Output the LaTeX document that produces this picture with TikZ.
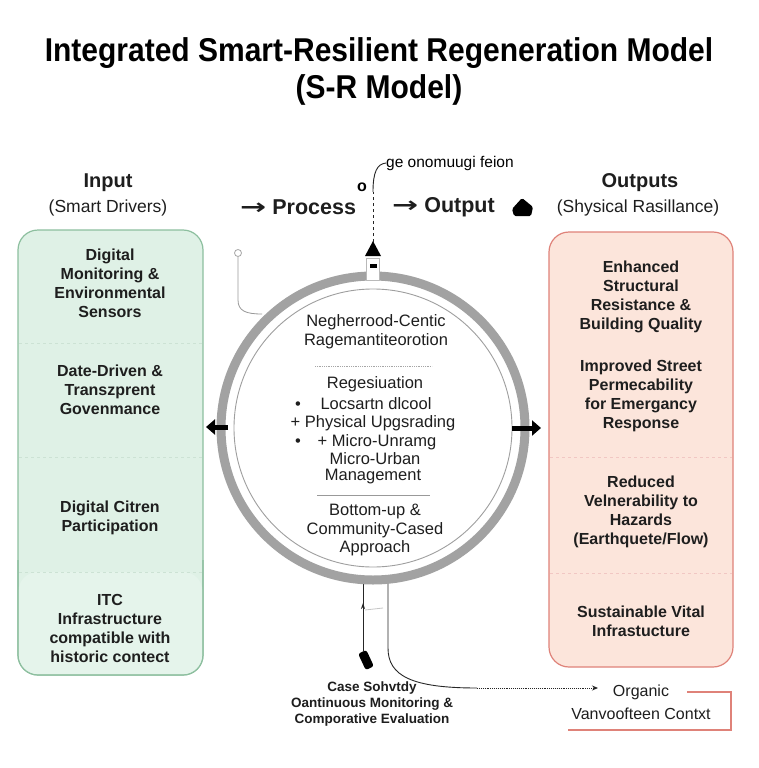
\documentclass[tikz,border=0pt]{standalone}
\usepackage{fontspec}
\setmainfont{Liberation Sans}
\newfontfamily\dejavu{DejaVu Sans}
\usetikzlibrary{arrows.meta}
\definecolor{greenfill}{HTML}{DFF1E6}
\definecolor{greenfillb}{HTML}{E5F4EB}
\definecolor{greenline}{HTML}{8DBF9F}
\definecolor{redfill}{HTML}{FCE5DB}
\definecolor{redline}{HTML}{DF8279}
\definecolor{ringgray}{HTML}{A2A2A2}
\definecolor{txt}{HTML}{1E1E1E}
\begin{document}
\begin{tikzpicture}[x=1pt,y=-1pt,
  boxtxt/.style={align=center, font=\fontsize{16}{19}\selectfont\bfseries, text=txt, inner sep=0},
  circtxt/.style={align=center, font=\fontsize{16.5}{18.7}\selectfont, text=txt, inner sep=0},
  headtxt/.style={font=\fontsize{20}{22}\selectfont\bfseries, text=txt, inner sep=0},
  subtxt/.style={font=\fontsize{17.5}{20}\selectfont, text=txt, inner sep=0},
  smalltxt/.style={align=center, font=\fontsize{13.5}{16}\selectfont\bfseries, text=txt, inner sep=0},
  thinline/.style={line width=0.9, black!85}
]
\useasboundingbox[fill=white] (0,0) rectangle (758,768);

% title
\node[align=center, font=\fontsize{30}{37}\selectfont\bfseries, inner sep=0] (title) at (379,71)
  {\scalebox{1}[1.1]{Integrated Smart-Resilient Regeneration Model}\\\scalebox{1}[1.1]{(S-R Model)}};

% headers
\node[headtxt] (inhead) at (108,183) {Input};
\node[subtxt] (insub) at (108,208) {(Smart Drivers)};
\node[headtxt, anchor=west, font=\fontsize{21.5}{22}\selectfont\bfseries] (proc) at (240,207)
  {\scalebox{1.45}[1]{\dejavu →} Process};
\node[headtxt, anchor=west, font=\fontsize{21.5}{22}\selectfont\bfseries] (outp) at (392,207)
  {\scalebox{1.45}[1]{\dejavu →} Output};
\node[headtxt] (outhead) at (640,183) {Outputs};
\node[subtxt] (outsub) at (638,208) {(Shysical Rasillance)};

% left box
\node[draw=greenline, fill=greenfill, rounded corners=20, line width=1.2, minimum width=185,
  minimum height=445, inner sep=0] (leftbox) at (110.5,452.5) {};
\fill[greenfillb, rounded corners=19] (18.6,572) -- (18.6,674.4) -- (202.4,674.4) -- (202.4,572) -- cycle;
\draw[greenline, line width=1.2, rounded corners=20] (18,560) -- (18,675) -- (203,675) -- (203,560);
\draw[greenline!45, dashed] (19,343) -- (202,343);
\draw[greenline!45, dashed] (19,457) -- (202,457);
\draw[greenline!45, dashed] (19,572) -- (202,572);
\node[boxtxt] (l1) at (110,283) {Digital\\Monitoring \&\\Environmental\\Sensors};
\node[boxtxt] (l2) at (110,390) {Date-Driven \&\\Transzprent\\Govenmance};
\node[boxtxt] (l3) at (110,518) {Digital Citren\\Participation};
\node[boxtxt] (l4) at (110,628) {ITC\\Infrastructure\\compatible with\\historic contect};

% right box
\node[draw=redline, fill=redfill, rounded corners=20, line width=1.2, minimum width=184,
  minimum height=435, inner sep=0] (rightbox) at (641,449.5) {};
\draw[redline!45, dashed] (550,457) -- (732,457);
\draw[redline!45, dashed] (550,573) -- (732,573);
\node[boxtxt] (r1) at (641,297) {Enhanced\\Structural\\Resistance \&\\Building Quality};
\node[boxtxt] (r2) at (641,396) {Improved Street\\Permecability\\for Emergancy\\Response};
\node[boxtxt] (r3) at (641,512) {Reduced\\Velnerability to\\Hazards\\(Earthquete/Flow)};
\node[boxtxt] (r4) at (641,621) {Sustainable Vital\\Infrastucture};

% lines below ring (drawn before the ring)
\coordinate (bl) at (363,582);
\coordinate (br) at (388,582);
\node[fill=black, rounded corners=2.5, minimum width=9, minimum height=18, rotate=25, inner sep=0] (blob) at (366,660) {};
\draw[thinline] (bl) -- (363,652);
\draw[thinline, -{Stealth[length=6,width=4]}] (363,618) -- (363,603);
\draw[gray!45, line width=0.8] (365,610) -- (383,608);
\coordinate (dotstart) at (477,688);
\coordinate (arrend) at (598,688);
\draw[thinline] (br) -- (388,648) .. controls (388,676) and (412,688) .. (dotstart);
\draw[thinline, densely dotted, -{Stealth[length=6,width=5]}] (dotstart) -- (arrend);

% left connector
\node[circle, draw=gray!70, minimum size=7, inner sep=0, line width=0.8] (lc) at (238,253) {};
\draw[gray!80, line width=0.8] (lc.south) -- (238,300) .. controls (238,311) and (246,314) .. (262,314);

% ring
\node[circle, draw=ringgray, line width=9, minimum size=304, inner sep=0] (ring) at (373,428) {};
\node[circle, draw=gray!75, line width=0.9, minimum size=278, inner sep=0] (inner) at (373,428) {};

% top stub and arrow
\node[draw=gray!55, fill=white, minimum width=13, minimum height=22, inner sep=0, line width=0.8] (stub) at (373,269) {};
\fill[black] (370,264) rectangle (377,268);
\fill[black] (365,256) -- (373,241) -- (381,256) -- cycle;
\coordinate (bend) at (373,192);
\node[font=\fontsize{15.5}{16}\selectfont, inner sep=0, anchor=west] (topnote) at (386,163) {ge onomuugi feion};
\node[font=\fontsize{16}{16}\selectfont\bfseries, inner sep=0] (smallo) at (362,187) {o};
\draw[thinline, dashed] (373,242) -- (bend);
\draw[thinline] (bend) .. controls (373,172) and (377,164) .. (topnote.west);

% output blob
\fill[black, rounded corners=1.5] (512,209) -- (522,198) -- (533,207) -- (531,216) -- (514,216) -- cycle;

% side arrows on ring
\draw[line width=5, -{Triangle[length=9,width=15]}] (228,427) -- (206,427);
\draw[line width=5, -{Triangle[length=9,width=15]}] (512,428) -- (541,428);

% circle text
\node[circtxt] (c1) at (376,332) {Negherrood-Centic\\Ragemantiteorotion};
\draw[gray!70, densely dotted, line width=0.8] (315,366) -- (432,366);
\node[circtxt] (c2) at (375,384) {Regesiuation};
\node[circtxt, anchor=base] (c3) at (376,409) {Locsartn dlcool};
\node[circtxt, anchor=base] (b1) at (298,409) {•};
\node[circtxt] (c4) at (373,423) {+ Physical Upgsrading};
\node[circtxt, anchor=base] (c5) at (377,446) {+ Micro-Unramg};
\node[circtxt, anchor=base] (b2) at (298,446) {•};
\node[circtxt] (c6) at (375,459) {Micro-Urban};
\node[circtxt] (c7) at (373,477) {Management};
\draw[gray!80, line width=0.9] (317,495) -- (430,495);
\node[circtxt] (c8) at (375,530) {Bottom-up \&\\Community-Cased\\Approach};

% bottom texts
\node[smalltxt] (case) at (372,704) {Case Sohvtdy\\Oantinuous Monitoring \&\\Comporative Evaluation};
\node[circtxt, font=\fontsize{16}{16}\selectfont] (org1) at (641,692) {Organic};
\node[circtxt, font=\fontsize{16}{16}\selectfont] (org2) at (641,714) {Vanvoofteen Contxt};
\draw[redline, line width=1.2] (687,692) -- (731,692) -- (731,730) -- (568,730);
\end{tikzpicture}
\end{document}
